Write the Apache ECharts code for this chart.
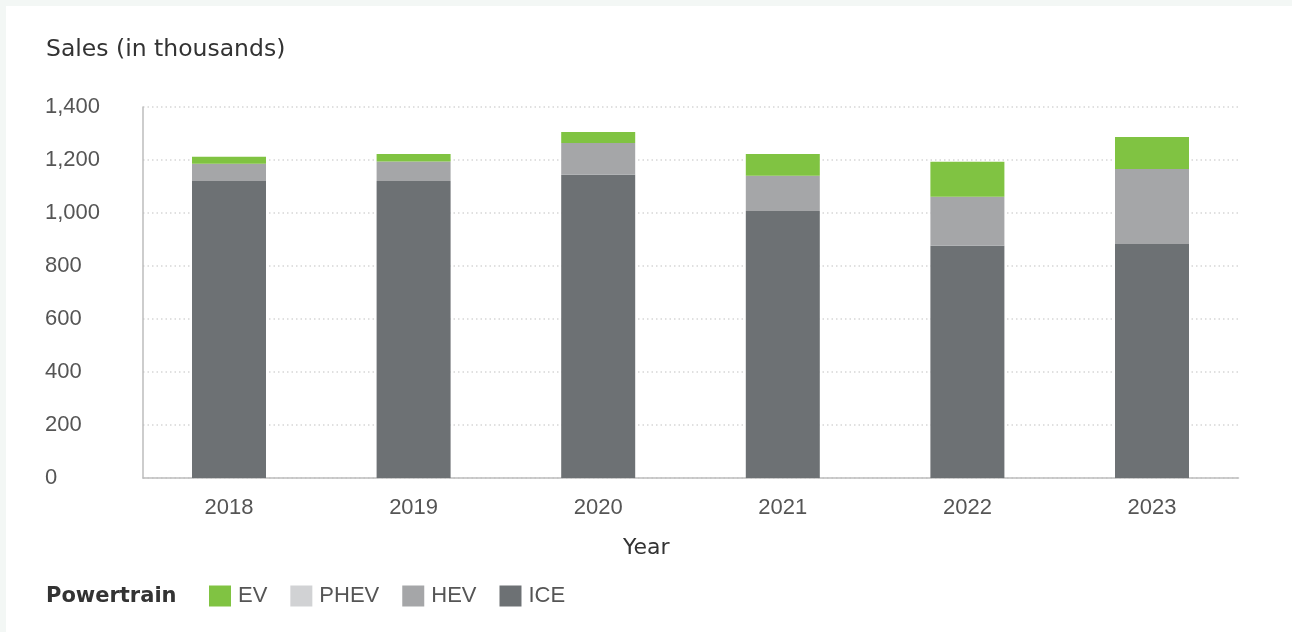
<!DOCTYPE html>
<html>
<head>
<meta charset="utf-8">
<script src="https://cdn.jsdelivr.net/npm/echarts@6/dist/echarts.min.js"></script>
<style>
  html, body { margin: 0; padding: 0; background: #f3f7f5; }
  #chart { position: absolute; left: 6px; top: 6px; width: 1286px; height: 626px; background: #ffffff; }
</style>
</head>
<body>
<div id="chart"></div>
<script>
// Vehicle sales by powertrain, thousands of units
const years = ['2018', '2019', '2020', '2021', '2022', '2023'];
const ice  = [1121, 1121, 1144, 1008, 876, 883];
const hev  = [65, 73, 120, 133, 185, 283];
const phev = [0, 0, 0, 0, 0, 0];
const ev   = [26, 29, 42, 82, 132, 121];

const yTicks = { min: 0, max: 1400, interval: 200 };

const colors = { EV: '#80c342', PHEV: '#d1d2d4', HEV: '#a5a6a8', ICE: '#6d7174' };
const headFont = '"DejaVu Sans", sans-serif';
const labelFont = '"Liberation Sans", Arial, sans-serif';

const chart = echarts.init(document.getElementById('chart'), null, { renderer: 'canvas' });

function barSeries(name, data) {
  return {
    name: name,
    type: 'bar',
    stack: 'total',
    xAxisIndex: 1,
    yAxisIndex: 1,
    barWidth: 74,
    data: data,
    itemStyle: { color: colors[name] }
  };
}

chart.setOption({
  animation: false,
  textStyle: { fontFamily: labelFont },
  title: [
    { text: 'Sales (in thousands)', left: 40, top: 32, padding: 0,
      textStyle: { fontFamily: headFont, fontSize: 23.5, fontWeight: 'normal', color: '#333' } },
    { text: 'Year', left: 617, top: 531, padding: 0,
      textStyle: { fontFamily: headFont, fontSize: 22, fontWeight: 'normal', color: '#333' } },
    { text: 'Powertrain', left: 40, top: 580, padding: 0,
      textStyle: { fontFamily: headFont, fontSize: 21, fontWeight: 'bold', color: '#333' } }
  ],
  legend: {
    data: ['EV', 'PHEV', 'HEV', 'ICE'],
    left: 203, top: 579,
    padding: 0,
    icon: 'rect',
    itemWidth: 22, itemHeight: 21, itemGap: 23,
    textStyle: { fontFamily: labelFont, fontSize: 22, color: '#555', padding: [0, 0, 0, 2] }
  },
  grid: [
    // axis frame
    { left: 137, right: 53.5, top: 101, bottom: 154 },
    // bar area
    { left: 130.7, right: 47.7, top: 101, bottom: 154 }
  ],
  xAxis: [
    { type: 'category', gridIndex: 0, data: years,
      axisLine: { show: true, lineStyle: { color: '#bdbdbd', width: 1.5 } },
      axisTick: { show: false }, axisLabel: { show: false }, splitLine: { show: false } },
    { type: 'category', gridIndex: 1, data: years,
      axisLine: { show: false }, axisTick: { show: false },
      axisLabel: { fontFamily: labelFont, fontSize: 22, color: '#555', margin: 19 } }
  ],
  yAxis: [
    { type: 'value', gridIndex: 0, min: yTicks.min, max: yTicks.max, interval: yTicks.interval,
      axisLine: { show: true, lineStyle: { color: '#bdbdbd', width: 1.5 } },
      axisTick: { show: false },
      axisLabel: { fontFamily: labelFont, fontSize: 22, color: '#555', align: 'left', margin: 98,
        padding: [4, 0, 0, 0],
        formatter: v => v.toLocaleString('en-US') },
      splitLine: { show: true, lineStyle: { color: '#d6d6d6', width: 1.5, type: [1.5, 3] } } },
    { type: 'value', gridIndex: 1, min: yTicks.min, max: yTicks.max, interval: yTicks.interval,
      show: false, splitLine: { show: false } }
  ],
  series: [
    barSeries('ICE', ice),
    barSeries('HEV', hev),
    barSeries('PHEV', phev),
    barSeries('EV', ev)
  ]
});
</script>
</body>
</html>
